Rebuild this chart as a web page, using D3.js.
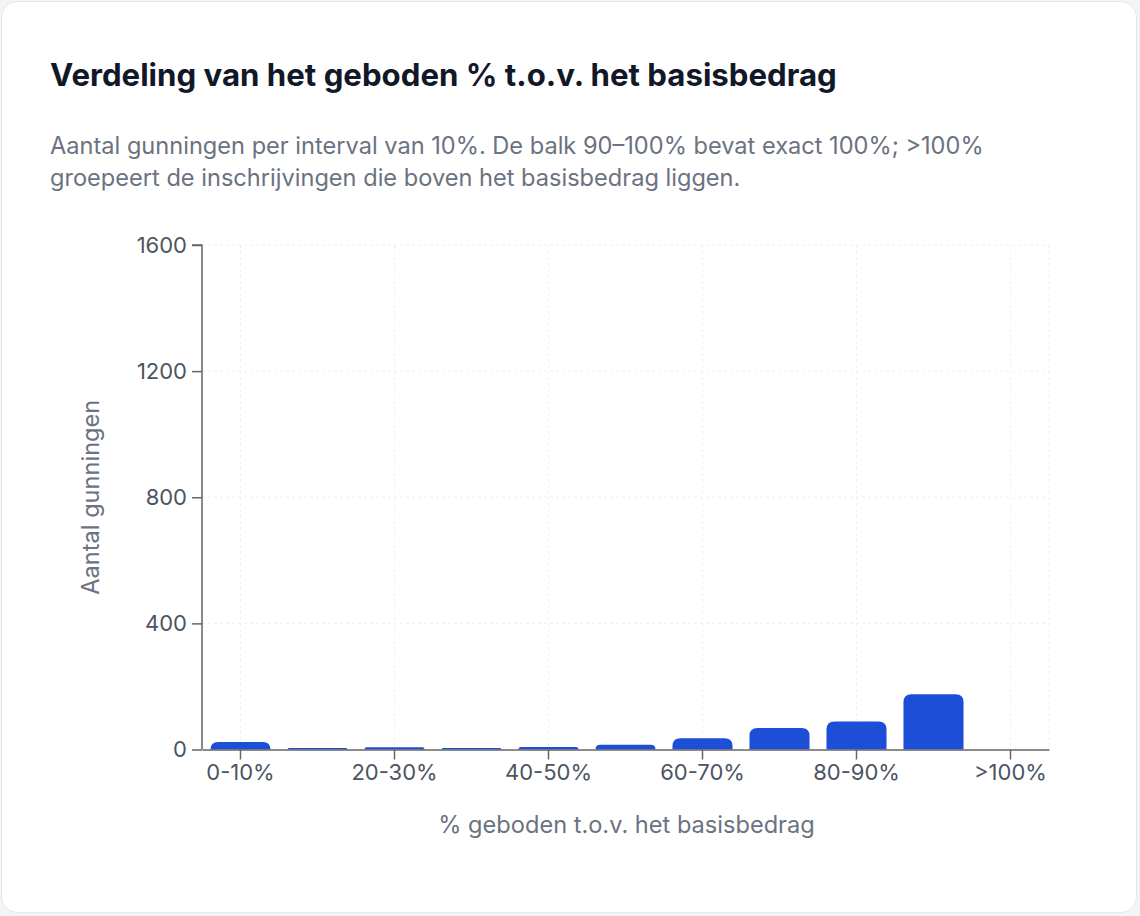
<!DOCTYPE html>
<html>
<head>
<meta charset="utf-8">
<script src="https://cdn.jsdelivr.net/npm/d3@7"></script>
<style>
  html,body{margin:0;padding:0;background:#f3f4f6;}
  body{width:1140px;height:916px;overflow:hidden;font-family:Inter,"Noto Sans",sans-serif;}
  .card{position:absolute;left:1px;top:1px;width:1136px;height:912px;background:#fff;border:1px solid #e5e7eb;border-radius:16px;box-sizing:border-box;}
  svg{position:absolute;left:0;top:0;font-family:Inter,"Noto Sans",sans-serif;}
</style>
</head>
<body>
<div class="card"></div>
<svg id="chart" width="1140" height="916"></svg>
<script>
// data
var categories=["0-10%","10-20%","20-30%","30-40%","40-50%","50-60%","60-70%","70-80%","80-90%","90-100%",">100%"];
var counts=[24,5,7,5,8,15,36,68,89,175,0];
var yTicks=[0,400,800,1200,1600];
var title="Verdeling van het geboden % t.o.v. het basisbedrag";
var subtitle=["Aantal gunningen per interval van 10%. De balk 90–100% bevat exact 100%; >100%",
              "groepeert de inschrijvingen die boven het basisbedrag liggen."];

var m={left:202,right:1049,top:245,bottom:749.5};
var svg=d3.select("#chart");

// header
svg.append("text")
   .attr("x",50).attr("y",86)
   .attr("fill","#111827")
   .style("font-size","31.2px").style("font-weight","700")
   .text(title);
svg.append("g").selectAll("text")
   .data(subtitle)
   .enter().append("text")
   .attr("x",50)
   .attr("y",function(d,i){return 154+i*32;})
   .attr("fill","#6b7280")
   .style("font-size","23.6px")
   .text(function(d){return d;});

var x=d3.scaleBand()
        .domain(categories)
        .range([m.left,m.right])
        .paddingInner(0.22)
        .paddingOuter(0.11);
var y=d3.scaleLinear()
        .domain([0,1600])
        .range([m.bottom,m.top]);

var shown=categories.filter(function(d,i){return i%2==0;});
function cx(d){return x(d)+x.bandwidth()/2;}

// grid
var grid=svg.append("g").attr("class","grid");
grid.selectAll("line.h")
    .data(yTicks.slice(1))
    .enter().append("line")
    .attr("x1",m.left).attr("x2",m.right)
    .attr("y1",function(d){return y(d);})
    .attr("y2",function(d){return y(d);})
    .attr("stroke","#eeeff1").attr("stroke-dasharray","3,3");
grid.selectAll("line.v")
    .data(shown)
    .enter().append("line")
    .attr("x1",cx).attr("x2",cx)
    .attr("y1",m.top).attr("y2",m.bottom)
    .attr("stroke","#eeeff1").attr("stroke-dasharray","3,3");
grid.append("line")
    .attr("x1",m.right).attr("x2",m.right)
    .attr("y1",m.top).attr("y2",m.bottom)
    .attr("stroke","#eeeff1").attr("stroke-dasharray","3,3");

// bars with rounded tops
var r=8;
function barPath(d,i){
  var x0=x(categories[i]),w=x.bandwidth(),y0=y(0),y1=y(d);
  var h=y0-y1;
  if(h<=0)return "";
  var rr=Math.min(r,h,w/2);
  return "M"+x0+","+y0+
         "V"+(y1+rr)+
         "Q"+x0+","+y1+" "+(x0+rr)+","+y1+
         "H"+(x0+w-rr)+
         "Q"+(x0+w)+","+y1+" "+(x0+w)+","+(y1+rr)+
         "V"+y0+"Z";
}
svg.append("g").selectAll("path")
   .data(counts)
   .enter().append("path")
   .attr("d",barPath)
   .attr("fill","#1d4ed8");

// axes
var yAxis=d3.axisLeft(y).tickValues(yTicks).tickFormat(d3.format("d")).tickSize(10).tickPadding(5);
var gy=svg.append("g")
   .attr("transform","translate("+m.left+",0)")
   .call(yAxis);
var xAxis=d3.axisBottom(x).tickValues(shown).tickSize(10).tickPadding(5).tickSizeOuter(0);
var gx=svg.append("g")
   .attr("transform","translate(0,"+m.bottom+")")
   .call(xAxis);
gy.select(".domain").attr("d","M"+(-10)+","+m.top+"H0V"+m.bottom);
[gx,gy].forEach(function(g){
  g.selectAll(".domain,line").attr("stroke","#666").attr("stroke-width",1.5);
  g.selectAll("text").attr("fill","#4b5563").style("font-family","Inter,sans-serif").style("font-size","22px");
});

// axis titles
svg.append("text")
   .attr("x",(m.left+m.right)/2+1)
   .attr("y",833)
   .attr("text-anchor","middle")
   .attr("fill","#6b7280")
   .style("font-size","23.6px")
   .text("% geboden t.o.v. het basisbedrag");
svg.append("text")
   .attr("transform","translate(99,"+((m.top+m.bottom)/2)+") rotate(-90)")
   .attr("text-anchor","middle")
   .attr("fill","#6b7280")
   .style("font-size","23.6px")
   .text("Aantal gunningen");
</script>
</body>
</html>
